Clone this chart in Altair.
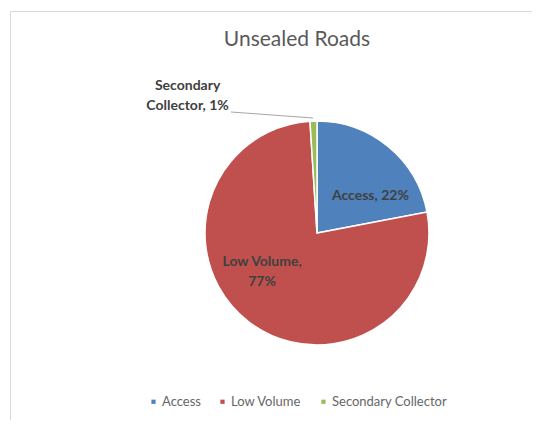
import altair as alt
import pandas as pd

# ---- data ----
categories = ["Access", "Low Volume", "Secondary Collector"]
values = [22, 77, 1]
labels = ["Access, 22%", "Low Volume,\n77%", "Secondary\nCollector, 1%"]
colors = ["#4F81BD", "#C0504D", "#9BBB59"]
title_text = "Unsealed Roads"

df = pd.DataFrame({"category": categories, "value": values, "label": labels})

# ---- layout / style ----
FONT = "Lato"
CX, CY, R = 307, 222, 112
W, H = 522, 409

pie = alt.Chart(df).mark_arc(stroke="white", strokeWidth=1.5).encode(
    theta=alt.Theta("value:Q", stack=True),
    color=alt.Color(
        "category:N",
        scale=alt.Scale(domain=categories, range=colors),
        legend=alt.Legend(
            orient="none", legendX=137, legendY=384, direction="horizontal",
            title=None, symbolType="square", symbolSize=18, symbolStrokeWidth=0,
            labelFont=FONT, labelFontSize=13, labelColor="#666666",
            columnPadding=15, labelOffset=2,
        ),
    ),
    order=alt.Order("category:N"),
    x=alt.value(CX), y=alt.value(CY), radius=alt.value(R),
)

base_text = alt.Chart(df).transform_window(
    cum="sum(value)", sort=[alt.SortField("category")], frame=[None, 0]
).transform_calculate(mid="datum.cum - datum.value / 2")


def label_layer(cat, r, dx, dy):
    return base_text.transform_filter(alt.datum.category == cat).mark_text(
        font=FONT, fontWeight="bold", fontSize=14, lineBreak="\n", lineHeight=20,
        dx=dx, dy=dy, color="#404040", align="center", baseline="middle",
    ).encode(
        theta=alt.Theta("mid:Q", stack=False),
        radius=alt.value(r),
        x=alt.value(CX), y=alt.value(CY),
        text="label:N",
    )


lab_access = label_layer("Access", 65, 12, 13)
lab_low = label_layer("Low Volume", 70, -12, -26)
lab_sec = label_layer("Secondary Collector", 140, -125, -7)

leader = alt.Chart(df).transform_filter(
    alt.datum.category == "Secondary Collector"
).mark_rule(color="#A6A6A6", strokeWidth=1).encode(
    x=alt.value(221), x2=alt.value(303), y=alt.value(101), y2=alt.value(107)
)

chart = alt.layer(pie, leader, lab_access, lab_low, lab_sec).properties(
    width=W, height=H,
    title=alt.TitleParams(
        title_text, font=FONT, fontSize=21, fontWeight="normal", color="#595959",
        anchor="middle", frame="group", offset=-29, dx=26, dy=21, baseline="middle",
    ),
    autosize=alt.AutoSizeParams(type="none"),
    padding={"left": 2, "top": 3, "right": 0, "bottom": 0},
).configure_view(stroke="#D9D9D9", strokeWidth=1)

chart.save("out.html", embed_options={"renderer": "svg", "actions": False})
